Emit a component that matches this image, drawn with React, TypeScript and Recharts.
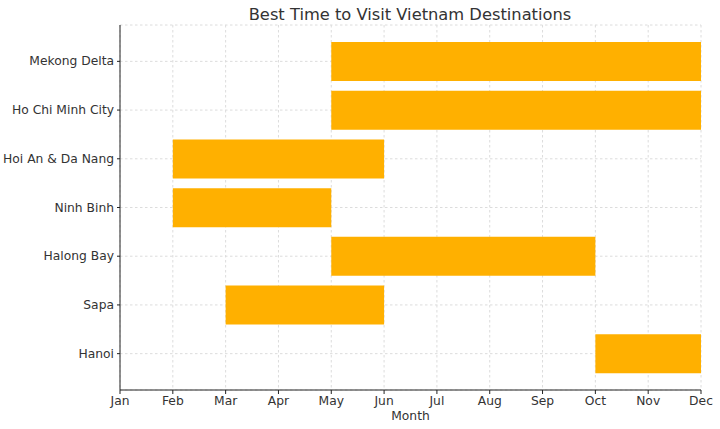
import { BarChart, Bar, XAxis, YAxis, CartesianGrid } from "recharts";

const destinations = [
  "Mekong Delta",
  "Ho Chi Minh City",
  "Hoi An & Da Nang",
  "Ninh Binh",
  "Halong Bay",
  "Sapa",
  "Hanoi",
];
// month index, 0 = Jan
const startMonths = [4, 4, 1, 1, 4, 2, 9];
const endMonths = [11, 11, 5, 4, 9, 5, 11];
const monthLabels = ["Jan", "Feb", "Mar", "Apr", "May", "Jun", "Jul", "Aug", "Sep", "Oct", "Nov", "Dec"];

const data = destinations.map((name, i) => ({
  name,
  offset: startMonths[i],
  span: endMonths[i] - startMonths[i],
}));

const FONT = "DejaVu Sans, sans-serif";
const AXIS = "#222";

// single-line category labels (the default tick wraps long names)
function DestTick(props: any) {
  const { x, y, payload } = props;
  return (
    <text x={x - 1} y={y} dy={4} textAnchor="end" fontSize={12.3} fill="#333" fontFamily={FONT}>
      {payload.value}
    </text>
  );
}

export default function App() {
  return (
    <div style={{ position: "absolute", left: 0, top: 0, background: "#fff" }}>
      <BarChart
        width={720}
        height={429}
        data={data}
        layout="vertical"
        margin={{ top: 25, right: 19, bottom: 0, left: 0 }}
        barCategoryGap={0}
      >
        <text x={410} y={20} textAnchor="middle" fontSize={16.3} fill="#333" fontFamily={FONT}>
          Best Time to Visit Vietnam Destinations
        </text>
        <CartesianGrid strokeDasharray="2.5 2.5" stroke="#dcdcdc" />
        <XAxis
          type="number"
          domain={[0, 11]}
          ticks={monthLabels.map((_, i) => i)}
          tickFormatter={(v: number) => monthLabels[v]}
          height={39}
          stroke={AXIS}
          tickSize={4}
          tick={{ fill: "#333", fontSize: 12.3, fontFamily: FONT }}
          label={{ value: "Month", position: "insideBottom", offset: 9, fill: "#333", fontSize: 12.3, fontFamily: FONT }}
        />
        <YAxis
          type="category"
          dataKey="name"
          width={120}
          padding={{ top: 12, bottom: 12 }}
          stroke={AXIS}
          tickSize={3}
          tick={<DestTick />}
        />
        <Bar dataKey="offset" stackId="t" fill="transparent" barSize={39} isAnimationActive={false} />
        <Bar dataKey="span" stackId="t" fill="#ffb000" barSize={39} isAnimationActive={false} />
      </BarChart>
    </div>
  );
}
